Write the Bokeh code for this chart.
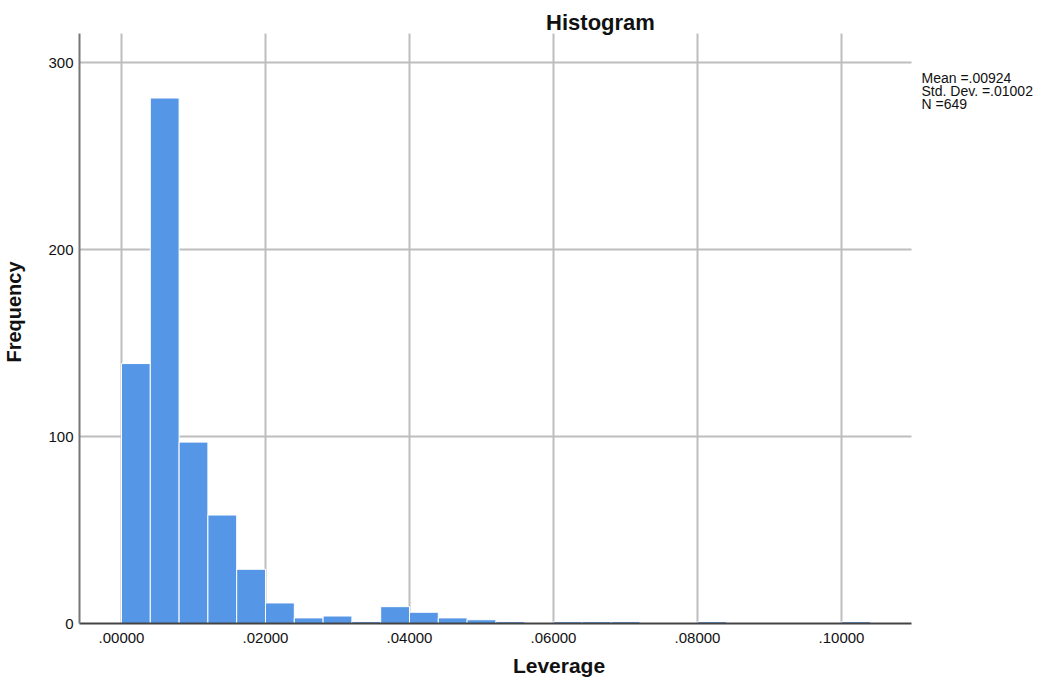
import math
from bokeh.plotting import figure
from bokeh.models import Range1d, FixedTicker, Label
from bokeh.embed import file_html
from bokeh.resources import INLINE

# ---- data ----
bin_width = 0.004
counts = [139, 281, 97, 58, 29, 11, 3, 4, 1, 9, 6, 3, 2, 1, 0,
          1, 1, 1, 0, 0, 1, 0, 0, 0, 0, 1]
x_ticks = [0.0, 0.02, 0.04, 0.06, 0.08, 0.10]
x_tick_labels = [".00000", ".02000", ".04000", ".06000", ".08000", ".10000"]
y_ticks = [0, 100, 200, 300]
stats_lines = ["Mean =.00924", "Std. Dev. =.01002", "N =649"]
title_text = "Histogram"
x_title = "Leverage"
y_title = "Frequency"

# axis extents (data units)
x_lo, x_hi = -0.0058333, 0.1097222
y_lo, y_hi = 0.0, 315.5

lefts = [i * bin_width for i in range(len(counts))]
rights = [l + bin_width for l in lefts]

FONT = "Liberation Sans"
W, H = 1038, 680
LEFT, BOTTOM = 79, 623  # frame left / x-axis line in canvas px


def px_x(cx):
    return (cx - 121) / 7200.0


def px_y(cy):
    return (623 - cy) / 1.87


p = figure(width=W, height=H, output_backend="svg", toolbar_location=None,
           x_range=Range1d(px_x(LEFT), px_x(W)), y_range=Range1d(0, px_y(0)),
           min_border_left=LEFT, min_border_right=0, min_border_top=0,
           min_border_bottom=H - BOTTOM, title=None)
p.outline_line_color = None
p.background_fill_color = "white"
p.border_fill_color = "white"
p.xgrid.visible = False
p.ygrid.visible = False

# grid lines drawn as segments so they stop at the axes' extents
grid_color = "#bdbdbd"
hy = [t for t in y_ticks if t > 0]
p.segment(x0=[x_lo] * len(hy), x1=[x_hi] * len(hy), y0=hy, y1=hy,
          line_color=grid_color, line_width=2)
p.segment(x0=x_ticks, x1=x_ticks, y0=[y_lo] * len(x_ticks), y1=[y_hi] * len(x_ticks),
          line_color=grid_color, line_width=2)

p.quad(left=lefts, right=rights, bottom=0, top=counts,
       fill_color="#5597e6", line_color="white", line_width=1)

# axes
p.xaxis.ticker = FixedTicker(ticks=x_ticks)
p.xaxis.major_label_overrides = dict(zip(x_ticks, x_tick_labels))
p.yaxis.ticker = FixedTicker(ticks=y_ticks)
p.xaxis.bounds = (x_lo, x_hi)
p.yaxis.bounds = (y_lo, y_hi)
for ax in (p.xaxis[0], p.yaxis[0]):
    ax.major_tick_out = 0
    ax.major_tick_in = 0
    ax.minor_tick_out = 0
    ax.minor_tick_in = 0
    ax.major_label_text_font = FONT
    ax.major_label_text_font_size = "15px"
    ax.major_label_text_color = "#111111"
    ax.axis_line_width = 2
    ax.axis_label_text_font = FONT
    ax.axis_label_text_font_style = "bold"
    ax.axis_label_text_color = "#111111"
p.xaxis.axis_line_color = "#444444"
p.yaxis.axis_line_color = "#777777"
p.xaxis.major_label_standoff = 9
p.yaxis.major_label_standoff = 6
p.xaxis.axis_label = x_title
p.xaxis.axis_label_text_font_size = "21px"
p.xaxis.axis_label_standoff = 8
p.yaxis.axis_label = y_title
p.yaxis.axis_label_text_font_size = "20px"
p.yaxis.axis_label_standoff = 20

p.add_layout(Label(x=px_x(600), y=px_y(22), text=title_text, text_align="center",
                   text_baseline="alphabetic", text_font=FONT, text_font_style="bold",
                   text_font_size="22px", text_color="#111111"))
for i, line in enumerate(stats_lines):
    p.add_layout(Label(x=px_x(921), y=px_y(77 + 13 * i), text=line, text_align="left",
                       text_baseline="alphabetic", text_font=FONT,
                       text_font_size="14px", text_color="#111111"))

open("out.html", "w").write(file_html(p, INLINE))
